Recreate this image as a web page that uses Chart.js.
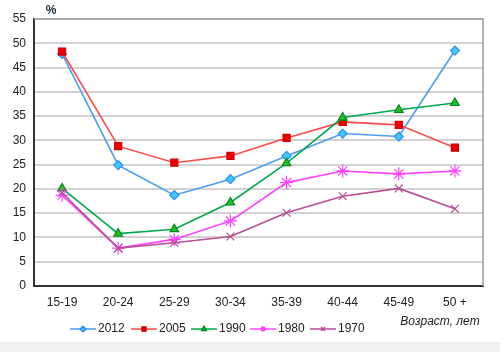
<!DOCTYPE html>
<html>
<head>
<meta charset="utf-8">
<script src="https://cdn.jsdelivr.net/npm/chart.js@4/dist/chart.umd.min.js"></script>
<style>
  html, body { margin: 0; padding: 0; background: #fff; }
  #wrap { width: 500px; height: 352px; position: relative; }
</style>
</head>
<body>
<div id="wrap"><canvas id="chart" width="500" height="352"></canvas></div>
<script>
// age groups on x axis
const ages = ["15-19", "20-24", "25-29", "30-34", "35-39", "40-44", "45-49", "50 +"];

// share by year, %
const y2012 = [47.8, 24.9, 18.7, 22.0, 26.8, 31.4, 30.8, 48.5];
const y2005 = [48.3, 28.8, 25.4, 26.8, 30.5, 33.8, 33.2, 28.5];
const y1990 = [20.1, 10.8, 11.7, 17.2, 25.3, 34.7, 36.3, 37.7];
const y1980 = [18.7, 7.8, 9.6, 13.4, 21.3, 23.7, 23.1, 23.7];
const y1970 = [19.2, 7.8, 8.9, 10.2, 15.1, 18.5, 20.1, 15.9];

const yTicks = [0, 5, 10, 15, 20, 25, 30, 35, 40, 45, 50, 55];

const FONT = "'Liberation Sans', Arial, sans-serif";

// legend drawn by hand: line + small marker + label
const legendPos = [70, 131, 191, 250, 310];

const legendPlugin = {
  id: "customLegend",
  beforeDraw(chart) {
    const ctx = chart.ctx;
    ctx.save();
    ctx.fillStyle = "#fff";
    ctx.fillRect(0, 0, chart.width, chart.height);
    ctx.fillStyle = "#f1f1f1";
    ctx.fillRect(0, 342, chart.width, 10);
    ctx.restore();
  },
  afterDraw(chart) {
    const ctx = chart.ctx;
    const area = chart.chartArea;
    ctx.save();
    // top/right frame
    ctx.strokeStyle = "#9a9a9a";
    ctx.lineWidth = 1.5;
    ctx.beginPath();
    ctx.moveTo(area.left, area.top);
    ctx.lineTo(area.right, area.top);
    ctx.lineTo(area.right, area.bottom);
    ctx.stroke();

    // "%" label
    ctx.fillStyle = "#1d2a3a";
    ctx.font = "bold 12px " + FONT;
    ctx.textAlign = "center";
    ctx.textBaseline = "middle";
    ctx.fillText("%", 51, 11);

    // axis title
    ctx.font = "italic 12px " + FONT;
    ctx.fillStyle = "#222";
    ctx.fillText("Возраст, лет", 440, 322);

    // legend
    chart.data.datasets.forEach((ds, i) => {
      const x = legendPos[i];
      const y = 329;
      ctx.strokeStyle = ds.borderColor;
      ctx.lineWidth = 1.5;
      ctx.beginPath();
      ctx.moveTo(x, y);
      ctx.lineTo(x + 26, y);
      ctx.stroke();
      if (Chart.helpers && Chart.helpers.drawPoint) {
        ctx.fillStyle = ds.pointBackgroundColor;
        ctx.strokeStyle = ds.pointBorderColor;
        Chart.helpers.drawPoint(ctx, { pointStyle: ds.pointStyle, radius: 2.8, borderWidth: 1 }, x + 13, y);
      }
      ctx.fillStyle = "#222";
      ctx.font = "12px " + FONT;
      ctx.textAlign = "left";
      ctx.fillText(ds.label, x + 28, y);
    });
    ctx.restore();
  }
};

new Chart(document.getElementById("chart"), {
  type: "line",
  data: {
    labels: ages,
    datasets: [
      { label: "2012", data: y2012, borderColor: "#4a9cf5", pointBackgroundColor: "#40c8ff",
        pointBorderColor: "#2a8ef0", pointStyle: "rectRot", pointRadius: 4.5, order: 5 },
      { label: "2005", data: y2005, borderColor: "#ff4a4a", pointBackgroundColor: "#ee0000",
        pointBorderColor: "#cc0000", pointStyle: "rect", pointRadius: 5, order: 4 },
      { label: "1990", data: y1990, borderColor: "#00a850", pointBackgroundColor: "#22c022",
        pointBorderColor: "#008a20", pointStyle: "triangle", pointRadius: 5, order: 3 },
      { label: "1980", data: y1980, borderColor: "#ff44ff", pointBackgroundColor: "#ff44ff",
        pointBorderColor: "#ff44ff", pointStyle: "star", pointRadius: 6.5, order: 2 },
      { label: "1970", data: y1970, borderColor: "#b84e92", pointBackgroundColor: "#b84e92",
        pointBorderColor: "#b84e92", pointStyle: "crossRot", pointRadius: 5.5, order: 1 }
    ].map(d => Object.assign({ borderWidth: 1.6, pointBorderWidth: 1.2, tension: 0, fill: false }, d))
  },
  options: {
    responsive: false,
    animation: false,
    layout: { padding: { left: 0, top: 19, right: 17, bottom: 36 } },
    plugins: {
      legend: { display: false },
      tooltip: { enabled: false }
    },
    scales: {
      x: {
        offset: true,
        grid: { display: false },
        border: { color: "#333", width: 2 },
        ticks: { color: "#222", font: { family: FONT, size: 12 }, padding: 1, maxRotation: 0 },
        afterFit(scale) { scale.height = 30; }
      },
      y: {
        min: 0,
        max: 55,
        afterBuildTicks(scale) { scale.ticks = yTicks.map(v => ({ value: v })); },
        grid: { color: "#d2d2d2", lineWidth: 2, drawTicks: false },
        border: { color: "#333", width: 2 },
        ticks: { color: "#222", font: { family: FONT, size: 12 }, padding: 8 },
        afterFit(scale) { scale.width = 34; }
      }
    }
  },
  plugins: [legendPlugin]
});
</script>
</body>
</html>
